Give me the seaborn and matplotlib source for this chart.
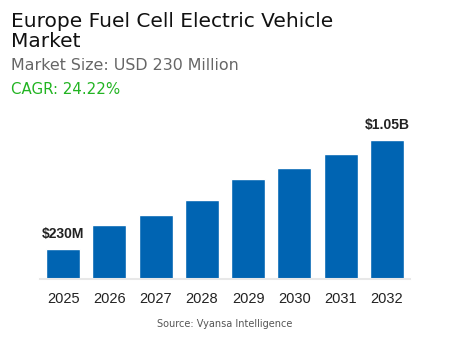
import matplotlib
matplotlib.use("Agg")
import matplotlib.pyplot as plt
import seaborn as sns
import pandas as pd

years = ["2025", "2026", "2027", "2028", "2029", "2030", "2031", "2032"]
values = [230, 410, 480, 595, 755, 835, 940, 1050]
first_label = "$230M"
last_label = "$1.05B"

title = "Europe Fuel Cell Electric Vehicle\nMarket"
subtitle = "Market Size: USD 230 Million"
cagr = "CAGR: 24.22%"
source = "Source: Vyansa Intelligence"

sns.set_style("white")
plt.rcParams['font.family'] = ['DejaVu Sans']

df = pd.DataFrame({"year": years, "value": values})

fig = plt.figure(figsize=(4.5, 3.5), dpi=100)
ax = fig.add_axes([40/450, (350-279.3)/350, 370/450, 159.6/350])
sns.barplot(data=df, x="year", y="value", color="#0064b2", saturation=1,
            width=0.736, ax=ax)
ax.set_xlim(-0.5, 7.5)
ax.set_ylim(0, 1200)
ax.set_xlabel("")
ax.set_ylabel("")
ax.set_yticks([])
for s in ["top", "right", "left"]:
    ax.spines[s].set_visible(False)
ax.spines["bottom"].set_color("#e8e8e8")
ax.spines["bottom"].set_linewidth(1.5)
ax.tick_params(axis="x", length=0, pad=9, labelsize=10.5, labelcolor="#222222")
for lab in ax.get_xticklabels():
    lab.set_fontfamily("Liberation Sans")

ax.text(0, values[0] + 55, first_label, ha="center", va="bottom",
        fontsize=10, fontweight="bold", family="Liberation Sans", color="#222222")
ax.text(7, values[-1] + 55, last_label, ha="center", va="bottom",
        fontsize=10, fontweight="bold", family="Liberation Sans", color="#222222")

fig.text(11/450, 1 - 27/350, "Europe Fuel Cell Electric Vehicle", fontsize=14.5,
         color="#111111", va="baseline", ha="left")
fig.text(11/450, 1 - 47/350, "Market", fontsize=14.5,
         color="#111111", va="baseline", ha="left")
fig.text(11/450, 1 - 70/350, subtitle, fontsize=11.4, color="#666666",
         va="baseline", ha="left")
fig.text(11/450, 1 - 94.3/350, cagr, fontsize=10.8, color="#22b422",
         va="baseline", ha="left")
fig.text(225/450, 1 - 327/350, source, fontsize=7, color="#555555",
         va="baseline", ha="center")

fig.savefig("out.png", dpi=100)
